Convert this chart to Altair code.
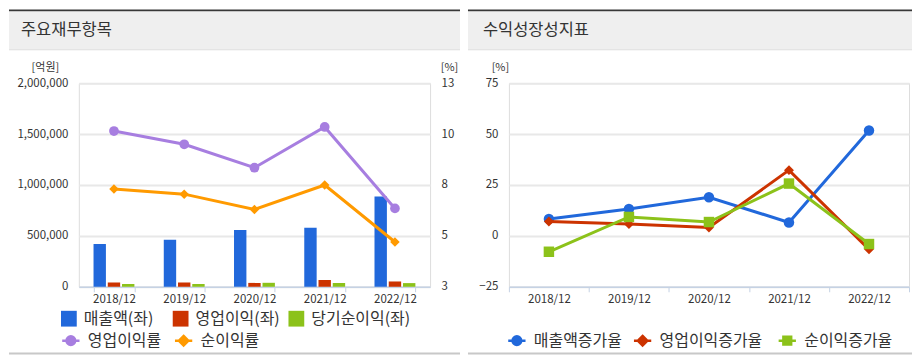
import altair as alt
import pandas as pd

FONT = "Noto Sans CJK KR"
TXT = "#333333"

periods = ["2018/12", "2019/12", "2020/12", "2021/12", "2022/12"]

# 주요재무항목 (억원)
bar_series = ["매출액(좌)", "영업이익(좌)", "당기순이익(좌)"]
revenue = [420000, 462000, 558000, 580000, 886000]
op_income = [42000, 42000, 38000, 66000, 52000]
net_income = [27000, 27000, 39000, 37000, 36000]
bar_colors = ["#2168db", "#cc3300", "#8cc21a"]

# 이익률 (%)
op_margin = [10.65, 10.0, 8.85, 10.85, 6.85]
net_margin = [7.8, 7.55, 6.8, 8.0, 5.2]

# 수익성장성지표 (%)
rev_growth = [8.3, 13.2, 19.0, 6.6, 51.8]
op_growth = [7.1, 5.8, 4.1, 32.3, -6.6]
net_growth = [-7.8, 9.3, 6.8, 25.7, -4.0]

left_y_ticks = [0, 500000, 1000000, 1500000, 2000000]
right_y_ticks = [3, 5.5, 8, 10.5, 13]
growth_ticks = [-25, 0, 25, 50, 75]

LEG_FS = 16


def series_df(name, vals):
    return pd.DataFrame({"period": periods, "series": [name] * 5, "value": vals})


# ---------- helpers ----------
def deco(x1, x2, title, tx):
    one = alt.Data(values=[{"k": 1}])
    top = alt.Chart(one).mark_rect(color="#383838").encode(
        x=alt.value(x1), x2=alt.value(x2), y=alt.value(-74), y2=alt.value(-72))
    head = alt.Chart(one).mark_rect(color="#efefef").encode(
        x=alt.value(x1), x2=alt.value(x2), y=alt.value(-72), y2=alt.value(-34))
    hline = alt.Chart(one).mark_rect(color="#dcdcdc").encode(
        x=alt.value(x1), x2=alt.value(x2), y=alt.value(-34), y2=alt.value(-33))
    bottom = alt.Chart(one).mark_rect(color="#c8c8c8").encode(
        x=alt.value(x1), x2=alt.value(x2), y=alt.value(270), y2=alt.value(272))
    ttl = alt.Chart(one).mark_text(
        text=title, align="left", baseline="middle", fontSize=16.5, font=FONT, color=TXT
    ).encode(x=alt.value(tx), y=alt.value(-53))
    return [top, head, hline, bottom, ttl]


def x_axis():
    return alt.Axis(
        title=None, labelAngle=0, labelFont=FONT, labelFontSize=11.5, labelColor=TXT,
        domainColor="#c5d2e4", domainWidth=1.5, tickColor="#c5d2e4", tickSize=5,
        tickBand="extent", labelPadding=2, grid=False,
    )


def line_legend(path, color, lx, ly):
    return alt.Legend(
        title=None, orient="none", legendX=lx, legendY=ly, padding=0,
        symbolType=path, symbolSize=300, symbolStrokeWidth=2.5,
        symbolFillColor=color, symbolStrokeColor=color,
        labelFont=FONT, labelFontSize=LEG_FS, labelColor=TXT, labelOffset=7, labelLimit=300,
    )


CIRCLE_P = "M-1,0H1M0.5,0A0.5,0.5,0,1,1,-0.5,0A0.5,0.5,0,1,1,0.5,0Z"
DIAMOND_P = "M-1,0H1M0,-0.55L0.55,0L0,0.55L-0.55,0Z"
SQUARE_P = "M-1,0H1M-0.45,-0.45H0.45V0.45H-0.45Z"

# ---------- left panel ----------
lx_scale = alt.Scale(paddingInner=0.418, paddingOuter=0.209)
ly_axis = alt.Axis(orient="left", values=left_y_ticks, format=",d", title="[억원]",
                   titleAngle=0, titleX=-34, titleY=-16, titleAlign="center",
                   titleBaseline="middle", titleFont=FONT, titleFontSize=11,
                   titleFontWeight="normal", titleColor=TXT,
                   labelFont=FONT, labelFontSize=11.5, labelColor=TXT, labelPadding=11,
                   domain=False, ticks=False, grid=True, gridColor="#e8e8e8",
                   gridWidth=2)
ly_scale = alt.Scale(domain=[0, 2000000], nice=False)
xoff_scale = alt.Scale(domain=bar_series, paddingInner=0.13, paddingOuter=0)


def bar_layer(name, vals, color, lx):
    return alt.Chart(series_df(name, vals)).mark_bar().encode(
        x=alt.X("period:N", sort=periods, scale=lx_scale, axis=x_axis()),
        xOffset=alt.XOffset("series:N", scale=xoff_scale),
        y=alt.Y("value:Q", scale=ly_scale, axis=ly_axis),
        color=alt.Color("series:N", scale=alt.Scale(domain=[name], range=[color]),
                        legend=alt.Legend(title=None, orient="none", legendX=lx,
                                          legendY=228, padding=0, symbolType="square",
                                          symbolSize=250, symbolStrokeWidth=0,
                                          labelFont=FONT, labelFontSize=LEG_FS,
                                          labelColor=TXT, labelOffset=7, labelLimit=300)),
    )


bars = alt.layer(
    bar_layer(bar_series[0], revenue, bar_colors[0], -18),
    bar_layer(bar_series[1], op_income, bar_colors[1], 94),
    bar_layer(bar_series[2], net_income, bar_colors[2], 210),
).resolve_scale(color="independent")

ry_axis = alt.Axis(orient="right", values=right_y_ticks, labelExpr="floor(datum.value)",
                   title="[%]", titleAngle=0, titleX=19, titleY=-16, titleAlign="center",
                   titleBaseline="middle", titleFont=FONT, titleFontSize=11,
                   titleFontWeight="normal", titleColor=TXT,
                   labelFont=FONT, labelFontSize=11.5, labelColor=TXT, labelPadding=11,
                   domain=False, ticks=False, grid=False)
ry_scale = alt.Scale(domain=[3, 13], nice=False)


def margin_line(name, vals, color, shape, size, path, lx, ly):
    return alt.Chart(series_df(name, vals)).mark_line(
        strokeWidth=3,
        point=alt.OverlayMarkDef(shape=shape, size=size, filled=True),
    ).encode(
        x=alt.X("period:N", sort=periods, axis=x_axis()),
        y=alt.Y("value:Q", scale=ry_scale, axis=ry_axis),
        color=alt.Color("series:N", scale=alt.Scale(domain=[name], range=[color]),
                        legend=line_legend(path, color, lx, ly)),
    )


lines_left = alt.layer(
    margin_line("영업이익률", op_margin, "#a77ee0", "circle", 95, CIRCLE_P, -18, 248),
    margin_line("순이익률", net_margin, "#ff9a00", "diamond", 90, DIAMOND_P, 95, 248),
).resolve_scale(color="independent")

left = alt.layer(
    *deco(-70, 382, "주요재무항목", -58), bars, lines_left
).resolve_scale(y="independent", color="independent").properties(width=352, height=204)

# ---------- right panel ----------
gy_axis = alt.Axis(orient="left", values=growth_ticks, title="[%]", titleAngle=0,
                   titleX=-9, titleY=-16, titleAlign="center", titleBaseline="middle",
                   titleFont=FONT, titleFontSize=11, titleFontWeight="normal",
                   titleColor=TXT, labelFont=FONT, labelFontSize=11.5, labelColor=TXT,
                   labelPadding=11, domain=False, ticks=False, grid=True,
                   gridColor="#e8e8e8", gridWidth=2)
gy_scale = alt.Scale(domain=[-25, 75], nice=False)
gx_scale = alt.Scale(paddingInner=0, paddingOuter=0)


def growth_line(name, vals, color, shape, size, path, lx):
    return alt.Chart(series_df(name, vals)).mark_line(
        strokeWidth=3,
        point=alt.OverlayMarkDef(shape=shape, size=size, filled=True),
    ).encode(
        x=alt.X("period:N", sort=periods, scale=gx_scale, axis=x_axis()),
        y=alt.Y("value:Q", scale=gy_scale, axis=gy_axis),
        color=alt.Color("series:N", scale=alt.Scale(domain=[name], range=[color]),
                        legend=line_legend(path, color, lx, 248)),
    )


right = alt.layer(
    *deco(-41, 404, "수익성장성지표", -26),
    growth_line("매출액증가율", rev_growth, "#2168db", "circle", 110, CIRCLE_P, -2),
    growth_line("영업이익증가율", op_growth, "#cc3300", "diamond", 100, DIAMOND_P, 124),
    growth_line("순이익증가율", net_growth, "#8cc21a", "square", 110, SQUARE_P, 269),
).resolve_scale(color="independent").properties(width=401, height=204)

chart = alt.hconcat(left, right, spacing=79, bounds="flush").properties(
    padding=0
).configure_view(stroke=None).configure(background="white")

chart.save("out.html", embed_options={"renderer": "svg", "actions": False})
